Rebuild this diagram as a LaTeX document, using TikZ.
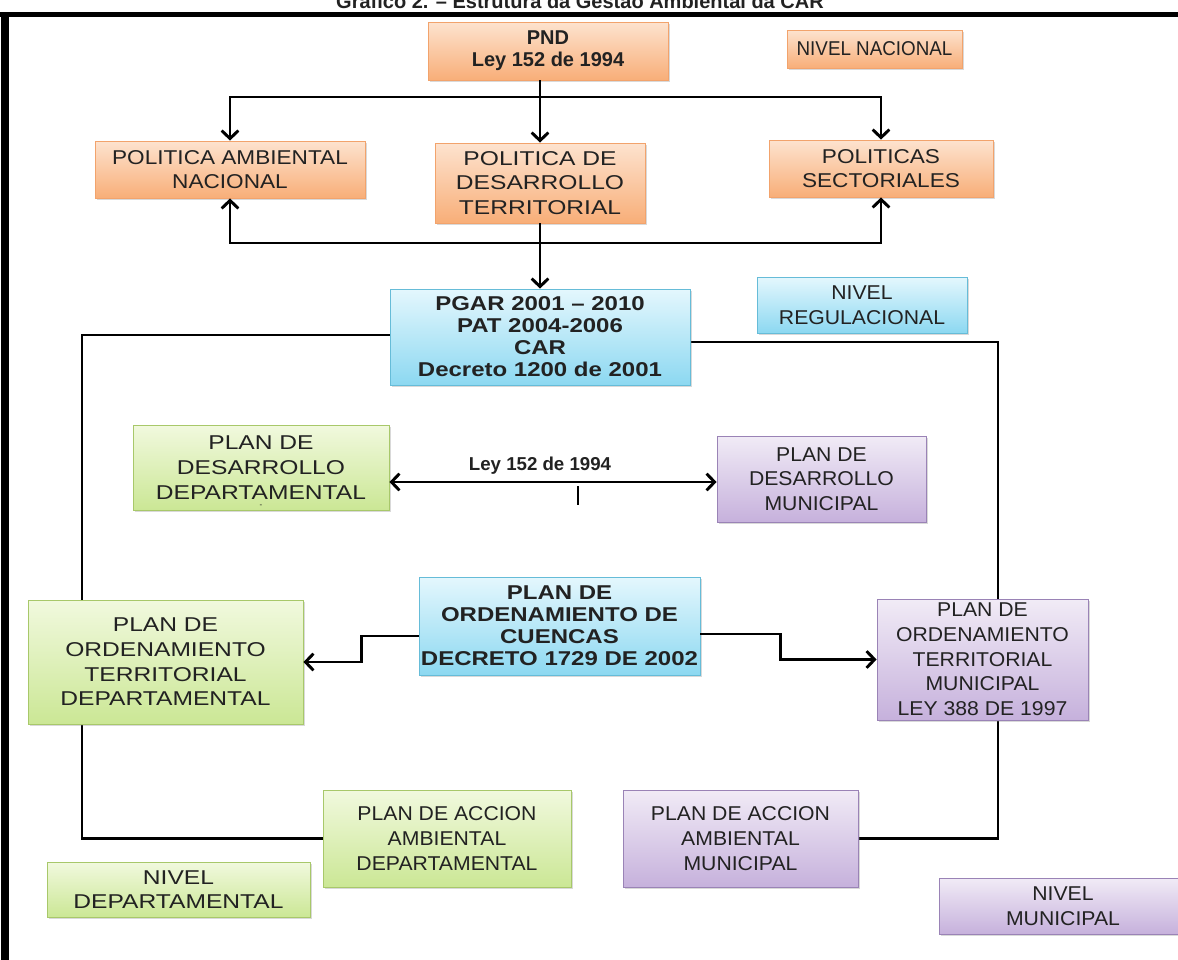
\documentclass[tikz,border=0pt]{standalone}
\usepackage{fontspec}
\setmainfont{Liberation Sans}
\newfontfamily\fntA{Liberation Sans}[FakeStretch=1.06]
\newfontfamily\fntB{Liberation Sans}[FakeStretch=1.13]
\newfontfamily\fntC{Liberation Sans}[FakeStretch=1.23]
\newfontfamily\fntW{Liberation Sans}[FakeStretch=1.2]
\newfontfamily\fntN{Liberation Sans}[FakeStretch=0.94]
\usepackage{xcolor}
\usetikzlibrary{arrows.meta,positioning,calc,shadows,backgrounds}

\definecolor{orTop}{HTML}{FDE3CF}
\definecolor{orBot}{HTML}{F8AE78}
\definecolor{orLine}{HTML}{F2A36C}
\definecolor{blTop}{HTML}{E4F7FD}
\definecolor{blBot}{HTML}{8CD8F1}
\definecolor{blLine}{HTML}{66BCD8}
\definecolor{grTop}{HTML}{F1F9DE}
\definecolor{grBot}{HTML}{CBE795}
\definecolor{grLine}{HTML}{A8C86A}
\definecolor{puTop}{HTML}{F1EBF6}
\definecolor{puBot}{HTML}{C6B1DC}
\definecolor{puLine}{HTML}{9A83B6}
\definecolor{txt}{HTML}{222222}

\begin{document}
\begin{tikzpicture}[
  x=0.75pt,y=-0.75pt,
  every node/.style={font=\fontsize{15}{18.5}\selectfont,text=txt},
  box/.style={rectangle,draw,line width=0.6pt,align=center,inner sep=0pt,
              drop shadow={shadow xshift=1.2pt,shadow yshift=-1.6pt,opacity=0.3}},
  nac/.style={box,draw=orLine,top color=orTop,bottom color=orBot},
  reg/.style={box,draw=blLine,top color=blTop,bottom color=blBot},
  dep/.style={box,draw=grLine,top color=grTop,bottom color=grBot},
  mun/.style={box,draw=puLine,top color=puTop,bottom color=puBot},
  fA/.style={font=\fntA\fontsize{15}{18.5}\selectfont},
  fB/.style={font=\fntB\fontsize{15}{18.5}\selectfont},
  fC/.style={font=\fntC\fontsize{15}{18.5}\selectfont},
  fN/.style={font=\fntN\fontsize{15}{18.5}\selectfont},
  fW/.style={font=\fntW\fontsize{15}{16.5}\selectfont\bfseries},
  bf/.style={font=\fontsize{15}{16.5}\selectfont\bfseries},
  ln/.style={line width=2.2pt,black},
  arr/.style={ln,-{Straight Barb[length=6pt,width=12.5pt]}},
  darr/.style={ln,{Straight Barb[length=6pt,width=12.5pt]}-{Straight Barb[length=6pt,width=12.5pt]}}]

  \useasboundingbox (0,0) rectangle (1178,960);

  % --- title (cut by the top of the page) and the frame
  \node[bf,anchor=base] (titulo) at (580,8)
    {Gráfico 2. – Estrutura da Gestão Ambiental da CAR};
  \draw[line width=3.75pt] (0,14.5) -- (1178,14.5);
  \draw[line width=6pt] (5,12) -- (5,960);

  % --- NIVEL NACIONAL (orange)
  \node[nac,bf,minimum width=180pt,minimum height=43.5pt] (pnd) at (548,51)
    {PND\\Ley 152 de 1994};
  \node[nac,fN,minimum width=131.25pt,minimum height=28.5pt] (nivNac) at (874.5,49)
    {NIVEL NACIONAL};
  \node[nac,fB,minimum width=202.5pt,minimum height=42.75pt] (polAmb) at (230,169.5)
    {POLITICA AMBIENTAL\\NACIONAL};
  \node[nac,fC,minimum width=157.5pt,minimum height=60pt] (polDes) at (540,183)
    {POLITICA DE\\DESARROLLO\\TERRITORIAL};
  \node[nac,fB,minimum width=168pt,minimum height=42.75pt] (polSec) at (881,168.5)
    {POLITICAS\\SECTORIALES};

  % --- NIVEL REGULACIONAL (blue)
  \node[reg,fW,minimum width=225pt,minimum height=72pt] (pgar) at (540,337)
    {PGAR 2001 – 2010\\PAT 2004-2006\\CAR\\Decreto 1200 de 2001};
  \node[reg,fA,minimum width=157.5pt,minimum height=42pt] (nivReg) at (862,305)
    {NIVEL\\REGULACIONAL};
  \node[reg,fW,minimum width=210.75pt,minimum height=73.5pt] (cuen) at (559.5,626)
    {PLAN DE\\ORDENAMIENTO DE\\CUENCAS\\DECRETO 1729 DE 2002};

  % --- NIVEL DEPARTAMENTAL (green)
  \node[dep,fC,minimum width=192pt,minimum height=63.75pt] (desDep) at (261,467.5)
    {PLAN DE\\DESARROLLO\\DEPARTAMENTAL};
  \node[font=\fontsize{6}{6}\selectfont] (desDepDash) at (261,506) {-};
  \node[dep,fC,minimum width=206.25pt,minimum height=93pt] (ordDep) at (165.5,662)
    {PLAN DE\\ORDENAMIENTO\\TERRITORIAL\\DEPARTAMENTAL};
  \node[dep,fA,minimum width=186pt,minimum height=72.75pt] (accDep) at (447,838.5)
    {PLAN DE ACCION\\AMBIENTAL\\DEPARTAMENTAL};
  \node[dep,fC,minimum width=197.25pt,minimum height=41.25pt] (nivDep) at (178.5,889.5)
    {NIVEL\\DEPARTAMENTAL};

  % --- NIVEL MUNICIPAL (purple)
  \node[mun,fA,minimum width=156.75pt,minimum height=64.5pt] (desMun) at (821.5,479)
    {PLAN DE\\DESARROLLO\\MUNICIPAL};
  \node[mun,fA,minimum width=158.25pt,minimum height=90.75pt] (ordMun) at (982.5,659.5)
    {PLAN DE\\ORDENAMIENTO\\TERRITORIAL\\MUNICIPAL\\LEY 388 DE 1997};
  \node[mun,fA,minimum width=176.25pt,minimum height=72.75pt] (accMun) at (740.5,838.5)
    {PLAN DE ACCION\\AMBIENTAL\\MUNICIPAL};
  \node[mun,fA,minimum width=186pt,minimum height=42pt] (nivMun) at (1063,906)
    {NIVEL\\MUNICIPAL};

  % --- connectors of the national level
  \coordinate (busT) at (540,97);
  \coordinate (busB) at (540,243);
  \draw[arr] (pnd.south -| polDes.north) -- (polDes.north);
  \draw[arr] (busT) -| (polAmb.north);
  \draw[arr] (busT) -| (polSec.north);
  \draw[arr] (busB) -| (polAmb.south);
  \draw[arr] (busB) -| (polSec.south);
  \draw[arr] (polDes.south) -- (pgar.north);

  % --- the two long frames behind the boxes
  \coordinate (lcol) at (82,0);
  \coordinate (rcol) at (998,0);
  \begin{scope}[on background layer]
    \draw[ln] ($(pgar.west)+(0,-2)$) -| (lcol |- accDep.west) -- (accDep.west);
    \draw[ln] ($(pgar.east)+(0,5)$) -| (rcol |- accMun.east) -- (accMun.east);
  \end{scope}

  % --- Ley 152 between the two development plans
  \coordinate (leyRow) at (0,482);
  \node[bf,font=\fontsize{14}{16}\selectfont\bfseries] (ley) at (540,466) {Ley 152 de 1994};
  \draw[darr] (desDep.east |- leyRow) -- (desMun.west |- leyRow);
  \coordinate (tick) at (578,486);
  \draw[line width=1.5pt] (tick) -- ++(0,19);

  % --- cuencas to both territorial plans
  \draw[arr] ($(cuen.west)+(0,10)$) -- ++(-57,0) |- (ordDep.east);
  \draw[arr] ($(cuen.east)+(0,8)$) -- ++(80,0) |- (ordMun.west);
\end{tikzpicture}
\end{document}
